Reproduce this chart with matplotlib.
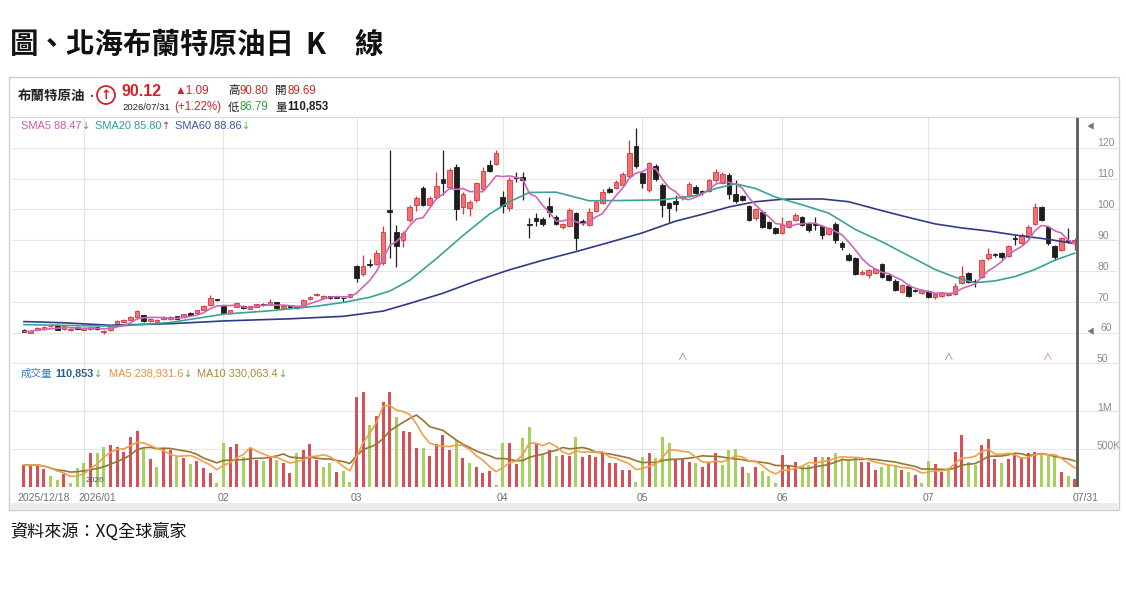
import matplotlib
matplotlib.use('Agg')
import matplotlib.pyplot as plt
import matplotlib.transforms as mtransforms
from matplotlib.patches import Rectangle, Circle
from matplotlib.text import Annotation
import numpy as np
import pandas as pd

plt.rcParams['font.family'] = ['Noto Sans CJK TC', 'DejaVu Sans']
LATIN = ['Liberation Sans', 'Noto Sans CJK TC', 'DejaVu Sans']

# ---- data ----
holidays = ['2025-12-25', '2026-01-01', '2026-04-03']
dates = pd.bdate_range('2025-12-18', '2026-07-31', freq='C', holidays=holidays)

opens = [
    60.9, 60.0, 60.7, 61.1, 62.0, 62.6, 61.2, 60.7, 61.9, 60.9,
    61.1, 61.7, 60.1, 60.7, 62.8, 63.4, 64.2, 65.2, 65.6, 63.8,
    63.5, 64.3, 64.3, 65.3, 65.0, 66.5, 66.3, 67.5, 69.0, 70.7,
    68.8, 66.3, 68.4, 68.8, 67.8, 68.4, 69.4, 69.1, 69.9, 68.1,
    68.9, 68.5, 68.4, 70.8, 72.1, 71.4, 71.8, 71.6, 71.4, 71.5,
    81.6, 79.0, 82.3, 82.3, 82.5, 99.8, 92.8, 90.1, 96.6, 101.5,
    106.9, 101.5, 104.0, 109.8, 107.2, 113.9, 100.9, 100.4, 102.9, 106.5,
    114.4, 114.8, 104.0, 100.4, 110.5, 110.4, 95.2, 97.3, 96.9, 101.1,
    97.7, 94.2, 94.6, 98.8, 96.3, 95.0, 99.6, 102.0, 106.5, 106.9,
    108.0, 110.9, 120.6, 111.7, 106.3, 114.1, 108.0, 102.0, 102.8, 103.8,
    104.4, 107.4, 105.9, 106.1, 109.4, 108.6, 111.2, 105.0, 104.2, 101.1,
    97.1, 99.3, 95.8, 93.9, 92.5, 94.3, 96.6, 97.5, 95.5, 95.3,
    94.7, 92.1, 95.4, 89.2, 85.2, 84.1, 79.0, 78.7, 79.5, 82.3,
    78.7, 76.9, 73.3, 75.3, 73.8, 73.0, 73.5, 71.7, 71.9, 72.3,
    72.6, 76.1, 79.3, 76.8, 78.2, 84.1, 85.3, 85.7, 84.9, 90.7,
    89.0, 91.2, 95.3, 100.7, 94.2, 88.1, 86.8, 90.2, 89.69,
]
highs = [
    61.1, 60.8, 61.7, 62.0, 62.8, 62.8, 62.2, 61.4, 62.1, 61.7,
    61.9, 61.9, 60.8, 62.3, 64.0, 64.5, 65.5, 67.4, 65.8, 64.6,
    64.3, 65.3, 65.3, 65.5, 66.2, 66.7, 67.5, 68.9, 72.2, 71.0,
    69.0, 67.5, 69.8, 69.0, 68.8, 69.4, 69.6, 70.9, 70.1, 68.9,
    69.1, 68.7, 70.8, 71.8, 72.8, 72.2, 72.0, 71.9, 71.7, 72.6,
    82.0, 85.2, 84.0, 86.8, 94.6, 119.3, 95.0, 93.0, 101.5, 104.5,
    107.5, 104.2, 112.3, 119.3, 113.5, 114.8, 105.5, 103.0, 109.0, 113.8,
    116.0, 119.2, 106.0, 110.5, 112.0, 112.0, 97.1, 99.0, 97.5, 104.0,
    98.2, 95.6, 100.3, 99.3, 96.8, 100.5, 103.0, 106.5, 107.3, 109.5,
    112.0, 122.6, 126.3, 112.2, 115.5, 114.6, 108.5, 102.5, 104.6, 104.6,
    108.8, 107.8, 106.4, 109.9, 113.2, 112.1, 111.7, 109.6, 104.6, 101.5,
    100.5, 99.8, 96.2, 94.3, 97.6, 96.5, 98.7, 97.9, 95.9, 97.6,
    95.1, 94.3, 95.8, 89.6, 85.8, 84.5, 80.2, 80.6, 81.0, 82.7,
    79.1, 77.3, 75.9, 75.7, 74.2, 74.3, 73.9, 73.0, 73.2, 73.0,
    76.2, 81.6, 79.7, 77.3, 84.0, 87.6, 86.0, 86.1, 88.5, 91.7,
    92.2, 94.9, 102.2, 101.1, 94.6, 88.5, 91.0, 93.9, 90.80,
]
lows = [
    60.1, 59.8, 60.5, 60.9, 61.7, 60.8, 61.0, 60.5, 61.1, 60.7,
    60.9, 60.9, 59.7, 60.5, 62.6, 63.2, 64.0, 65.0, 63.6, 63.6,
    63.3, 64.1, 64.1, 64.3, 64.8, 65.5, 66.1, 67.3, 68.8, 70.2,
    66.0, 66.1, 68.2, 67.8, 67.6, 68.2, 68.8, 68.9, 67.7, 67.9,
    68.1, 67.7, 68.2, 70.6, 71.9, 71.2, 71.0, 71.2, 69.8, 71.3,
    76.6, 78.5, 81.3, 81.8, 82.0, 84.2, 81.4, 87.9, 96.0, 99.5,
    101.0, 101.0, 103.5, 104.7, 106.5, 96.6, 98.5, 98.0, 102.3, 106.0,
    112.0, 114.3, 98.8, 99.5, 109.0, 103.1, 90.6, 94.7, 94.6, 97.7,
    94.8, 93.8, 94.2, 86.9, 95.0, 94.6, 99.2, 101.6, 105.3, 106.5,
    107.6, 110.4, 113.6, 106.9, 105.8, 109.2, 97.7, 96.0, 99.5, 103.2,
    104.0, 104.9, 104.8, 105.7, 109.0, 108.2, 103.4, 102.2, 102.6, 96.2,
    96.7, 94.0, 93.5, 91.9, 92.1, 93.9, 96.2, 94.6, 92.8, 93.4,
    90.5, 91.7, 89.0, 86.7, 83.2, 78.6, 78.6, 77.6, 79.1, 77.8,
    76.7, 73.5, 72.9, 71.6, 73.2, 72.6, 71.3, 71.0, 71.5, 72.0,
    72.2, 75.7, 76.0, 74.8, 77.8, 83.7, 84.5, 84.0, 84.5, 88.5,
    88.6, 90.8, 94.9, 96.2, 88.3, 83.5, 86.4, 89.1, 86.79,
]
closes = [
    60.3, 60.6, 61.5, 61.8, 62.1, 61.0, 62.0, 61.2, 61.3, 61.5,
    61.7, 61.1, 60.6, 62.1, 63.7, 64.2, 65.2, 67.1, 63.9, 64.4,
    64.1, 65.1, 65.1, 64.5, 66.0, 65.7, 67.3, 68.7, 71.2, 70.5,
    66.3, 67.3, 69.6, 68.0, 68.6, 69.2, 69.0, 69.9, 67.9, 68.7,
    68.3, 67.9, 70.6, 71.6, 72.3, 72.0, 71.2, 71.4, 71.1, 72.4,
    77.9, 81.6, 81.8, 85.8, 92.8, 99.3, 88.1, 92.5, 100.9, 103.6,
    101.5, 103.6, 107.6, 108.5, 112.8, 100.1, 105.0, 102.5, 108.5, 112.6,
    112.6, 118.4, 101.2, 109.6, 110.2, 109.6, 95.0, 96.3, 95.2, 99.3,
    95.2, 95.2, 99.8, 90.6, 95.5, 99.3, 102.5, 105.5, 105.8, 109.0,
    111.5, 118.4, 114.1, 108.5, 115.0, 109.8, 101.5, 100.4, 101.8, 104.0,
    108.3, 105.3, 105.7, 109.4, 112.3, 111.6, 105.0, 102.7, 103.1, 96.6,
    100.0, 94.4, 93.9, 92.3, 95.0, 96.1, 98.2, 95.0, 93.2, 95.1,
    91.8, 93.9, 90.2, 87.7, 83.6, 79.0, 79.8, 80.2, 80.6, 78.2,
    77.1, 73.9, 75.5, 72.0, 73.6, 73.9, 71.7, 72.6, 72.8, 72.6,
    75.0, 78.5, 76.4, 76.5, 83.6, 85.5, 85.1, 84.4, 88.1, 90.5,
    91.7, 94.4, 100.7, 96.6, 89.0, 84.6, 90.6, 89.5, 90.12,
]
# volume in thousands of lots
volumes_k = [
    289, 289, 289, 237, 145, 92, 167, 57, 246, 312,
    443, 443, 522, 553, 522, 465, 654, 741, 509, 364,
    268, 509, 487, 399, 377, 303, 342, 246, 189, 57,
    583, 531, 566, 399, 509, 355, 342, 390, 355, 312,
    180, 443, 487, 566, 355, 268, 320, 201, 212, 64,
    1188, 1254, 816, 930, 1123, 1254, 925, 737, 728, 509,
    509, 412, 566, 684, 487, 618, 377, 312, 268, 180,
    215, 31, 583, 575, 303, 640, 794, 566, 421, 487,
    408, 421, 408, 654, 399, 421, 399, 443, 320, 312,
    224, 224, 70, 390, 452, 377, 654, 583, 364, 364,
    333, 320, 268, 333, 443, 289, 487, 500, 259, 180,
    268, 215, 145, 48, 421, 289, 333, 276, 289, 390,
    390, 390, 443, 377, 355, 390, 333, 333, 224, 268,
    289, 276, 224, 202, 158, 57, 346, 303, 202, 246,
    465, 684, 333, 289, 553, 627, 364, 312, 364, 452,
    390, 443, 465, 421, 408, 390, 202, 145, 111,
]
# 1 = volume bar drawn red (up day), 0 = green
vol_up = [
    1, 1, 1, 1, 0, 0, 1, 0, 0, 0,
    1, 0, 0, 1, 1, 1, 1, 1, 0, 1,
    0, 1, 1, 0, 1, 0, 1, 1, 1, 0,
    0, 1, 1, 0, 1, 1, 0, 1, 0, 1,
    1, 0, 1, 1, 1, 0, 0, 1, 0, 0,
    1, 1, 0, 1, 1, 1, 0, 1, 1, 1,
    0, 1, 1, 1, 1, 0, 1, 0, 1, 1,
    1, 0, 0, 1, 1, 0, 0, 1, 0, 1,
    0, 1, 1, 0, 1, 1, 1, 1, 1, 1,
    1, 1, 0, 0, 1, 0, 0, 0, 1, 1,
    1, 0, 1, 1, 1, 0, 0, 0, 1, 0,
    1, 0, 0, 0, 1, 1, 1, 0, 0, 1,
    0, 1, 0, 0, 0, 0, 1, 1, 1, 0,
    0, 0, 1, 0, 1, 0, 0, 1, 1, 0,
    1, 1, 0, 0, 1, 1, 1, 0, 1, 1,
    1, 1, 1, 0, 0, 0, 1, 0, 1,
]
# SMA20 / SMA60 as traced on the chart (bar index, price)
sma20_idx = [0, 8, 14, 22, 30, 37, 44, 48, 52, 55, 58, 62, 66, 70, 73, 76, 80,
             85, 90, 96, 101, 104, 107, 110, 113, 117, 121, 125, 129, 133, 137,
             140, 143, 146, 149, 152, 155, 158]
sma20_val = [62.6, 62.3, 62.1, 63.3, 66.0, 67.1, 68.6, 69.8, 71.5, 73.5, 77.0,
             84.0, 91.5, 98.5, 102.5, 105.5, 105.6, 102.8, 102.9, 103.1, 104.5,
             106.8, 108.3, 106.8, 104.0, 101.5, 98.8, 93.5, 89.5, 85.0, 80.5,
             78.0, 76.2, 76.8, 78.2, 80.5, 83.5, 85.8]
sma60_idx = [0, 6, 13, 22, 30, 40, 48, 54, 58, 63, 68, 73, 78, 83, 88, 93, 98,
             102, 106, 110, 114, 120, 124, 129, 133, 137, 141, 145, 149, 154, 158]
sma60_val = [63.6, 63.2, 62.4, 62.9, 63.8, 64.5, 65.3, 67.0, 69.5, 72.8, 76.8,
             80.4, 83.5, 86.3, 89.3, 92.4, 96.2, 98.4, 100.8, 102.5, 103.3, 103.4,
             102.5, 99.6, 97.4, 95.3, 94.0, 93.0, 91.7, 90.3, 88.9]
event_idx = [99, 139, 154]
event_col = ['#5b7fd4', '#5b7fd4', '#d36fb4']

n = len(dates)
assert len(opens) == len(highs) == len(lows) == len(closes) == len(volumes_k) == len(vol_up) == n

x = np.arange(n)
o = np.array(opens); h = np.array(highs); l = np.array(lows); c = np.array(closes)
vol = np.array(volumes_k) * 1000.0
sma5 = pd.Series(c).rolling(5, min_periods=1).mean()
vma5 = pd.Series(vol).rolling(5, min_periods=1).mean()
vma10 = pd.Series(vol).rolling(10, min_periods=1).mean()
month_start = [i for i in range(1, n) if dates[i].month != dates[i - 1].month]

# ---- figure ----
W, H = 1126, 602
fig = plt.figure(figsize=(W / 100, H / 100), dpi=100)


def ptext(px, py, s, **kw):
    kw.setdefault('va', 'center')
    return fig.text(px / W, 1 - py / H, s, **kw)


def after(prev, s, gap, **kw):
    # text placed just right of another text artist
    return fig.add_artist(Annotation(s, xy=(1, 0.5), xycoords=prev, xytext=(gap, 0),
                                     textcoords='offset points', va='center', ha='left', **kw))


def pax(left, top, right, bottom):
    return fig.add_axes([left / W, 1 - bottom / H, (right - left) / W, (bottom - top) / H])


# frame around the chart widget
fig.patches.append(Rectangle((9 / W, 1 - 510 / H), 1110 / W, 433 / H, transform=fig.transFigure,
                             fill=False, ec='#cfcfcf', lw=1.0))
fig.patches.append(Rectangle((10 / W, 1 - 510 / H), 1108 / W, 7 / H, transform=fig.transFigure,
                             fc='#ececec', ec='none'))
fig.add_artist(plt.Line2D([10 / W, 1118 / W], [1 - 117 / H, 1 - 117 / H], color='#d9d9d9', lw=0.8))

ax = pax(12, 117, 1118, 365)
axv = pax(12, 365, 1118, 487)
XL = (-1.8, 164.5)
for a in (ax, axv):
    a.set_xlim(*XL)
    a.set_facecolor('none')
    for s in a.spines.values():
        s.set_visible(False)
    a.set_xticks([]); a.set_yticks([])
    for m in month_start:
        a.axvline(m, color='#e4e4e4', lw=0.8, zorder=0)
    a.axvline(n - 1 + 0.35, color='#5a5a5a', lw=2.0, zorder=5)

# ---- price panel ----
ax.set_ylim(49.5, 130.0)
for v in range(50, 121, 10):
    ax.axhline(v, color='#e6e6e6', lw=0.8, zorder=0)

up = c >= o
wick_col = np.where(up, '#d8353b', '#1e1e1e')
ax.vlines(x, l, h, colors=wick_col, lw=0.9, zorder=2)
body_h = np.maximum(np.abs(c - o), 0.3)
body_b = np.minimum(o, c)
ax.bar(x[up], body_h[up], bottom=body_b[up], width=0.7, color='#f07272', edgecolor='#d8353b',
       lw=0.6, zorder=3)
ax.bar(x[~up], body_h[~up], bottom=body_b[~up], width=0.7, color='#1e1e1e', edgecolor='#1e1e1e',
       lw=0.6, zorder=3)

ax.plot(sma60_idx, sma60_val, color='#2f3c84', lw=1.2, zorder=4)
ax.plot(sma20_idx, sma20_val, color='#3aa395', lw=1.2, zorder=4)
ax.plot(x, sma5, color='#cc68b6', lw=1.2, zorder=4)

for v in range(50, 121, 10):
    ax.text(161.35 if v != 60 else 161.8, v + 1.4, str(v), fontsize=7.5, color='#8a8a8a',
            ha='left', va='center', family=LATIN, clip_on=False)
ax.text(160.4, 126.6, '◀', fontsize=5.5, color='#777777', ha='center', va='center', clip_on=False)
ax.text(160.4, 60.2, '◀', fontsize=5.5, color='#777777', ha='center', va='center', clip_on=False)
for ei, ec in zip(event_idx, event_col):
    ax.text(ei, 52.1, '∧', fontsize=7, color=ec, ha='center', va='center', family=LATIN)

# ---- volume panel ----
axv.set_ylim(0, 1.605e6)
for v in (5e5, 1e6):
    axv.axhline(v, color='#e6e6e6', lw=0.8, zorder=0)
vcol = ['#d6505a' if u else '#a8d060' for u in vol_up]
axv.bar(x, vol, width=0.45, color=vcol, zorder=2)
axv.plot(x, vma10, color='#957634', lw=1.2, zorder=3)
axv.plot(x, vma5, color='#f0a04a', lw=1.2, zorder=3)
axv.text(161.35, 1.0e6 + 4e4, '1M', fontsize=7.5, color='#8a8a8a', ha='left', va='center',
         family=LATIN, clip_on=False)
axv.text(161.35, 5e5 + 4e4, '500K', fontsize=7.5, color='#8a8a8a', ha='left', va='center',
         family=LATIN, clip_on=False)
axv.text(month_start[0] + 0.2, 9e4, '2026', fontsize=6, color='#555555', ha='left', va='center',
         family=LATIN)

# ---- date labels ----
tr = mtransforms.blended_transform_factory(axv.transData, fig.transFigure)
ly = 1 - 498 / H
lab_kw = dict(fontsize=7.5, color='#707070', va='center', family=LATIN, transform=tr)
fig.text(-1.05, ly, dates[0].strftime('%Y/%m/%d'), ha='left', **lab_kw)
for k, m in enumerate(month_start):
    if k == 0:
        fig.text(m - 0.75, ly, dates[m].strftime('%Y/%m'), ha='left', **lab_kw)
    else:
        fig.text(m, ly, dates[m].strftime('%m'), ha='center', **lab_kw)
fig.text(n - 1 - 0.3, ly, dates[-1].strftime('%m/%d'), ha='left', **lab_kw)

# ---- header of the widget ----
RED, GRN, DARK = '#d2232a', '#2e9e3e', '#222222'
ptext(18, 96, '布蘭特原油', fontsize=9.7, weight='bold', color=DARK)
ptext(86, 97, '•', fontsize=7, color=DARK)
fig.patches.append(Circle((1.06, (H - 95) / 100), 0.09, transform=fig.dpi_scale_trans,
                          fill=False, ec=RED, lw=1.3))
ptext(106, 95.5, '↑', fontsize=9, color=RED, ha='center', weight='bold', family=['DejaVu Sans'])
ptext(121, 91, '90.12', fontsize=11.5, weight='bold', color=RED, family=LATIN)
ptext(122, 107.5, '2026/07/31', fontsize=6.8, color=DARK, family=LATIN)
ptext(175, 90.5, '▲1.09', fontsize=8.5, color=RED, family=LATIN)
ptext(174, 107, '(+1.22%)', fontsize=8.3, color=RED, family=LATIN)
ptext(228, 90.5, '高', fontsize=8.3, color=DARK)
ptext(240, 90.5, '90.80', fontsize=8.3, color=RED, family=LATIN)
ptext(228, 107, '低', fontsize=8.3, color=DARK)
ptext(240, 107, '86.79', fontsize=8.3, color=GRN, family=LATIN)
ptext(275, 90.5, '開', fontsize=8.3, color=DARK)
ptext(287, 90.5, '89.69', fontsize=8.3, color=RED, family=LATIN)
ptext(275, 107, '量', fontsize=8.3, color=DARK)
ptext(287, 107, '110,853', fontsize=8.3, color=DARK, weight='bold', family=LATIN)

# moving-average legends
ARW = ['DejaVu Sans']
t = ptext(21, 126, 'SMA5 88.47', fontsize=7.9, color='#cc5aae', family=LATIN)
t = after(t, '↓', 0.3, fontsize=7, color='#4cae4c', family=ARW)
t = after(t, 'SMA20 85.80', 3.5, fontsize=7.9, color='#2f9e90', family=LATIN)
t = after(t, '↑', 0.3, fontsize=7, color=RED, family=ARW)
t = after(t, 'SMA60 88.86', 3.5, fontsize=7.9, color='#3b55a5', family=LATIN)
after(t, '↓', 0.3, fontsize=7, color='#4cae4c', family=ARW)

t = ptext(21, 374, '成交量', fontsize=7.6, color='#3a7cc0')
t = after(t, '110,853', 2.0, fontsize=7.8, color='#2b5f8e', weight='bold', family=LATIN)
t = after(t, '↓', 0.3, fontsize=7, color='#4cae4c', family=ARW)
t = after(t, 'MA5 238,931.6', 5.0, fontsize=7.9, color='#e8903a', family=LATIN)
t = after(t, '↓', 0.3, fontsize=7, color='#4cae4c', family=ARW)
t = after(t, 'MA10 330,063.4', 4.0, fontsize=7.9, color='#a88a2e', family=LATIN)
after(t, '↓', 0.3, fontsize=7, color='#4cae4c', family=ARW)

# ---- page title and source ----
ptext(10, 45, '圖、北海布蘭特原油日', fontsize=20.5, weight='bold', color='#111111')
ptext(305, 45, 'K', fontsize=21, weight='bold', color='#111111')
ptext(354, 45, '線', fontsize=20.5, weight='bold', color='#111111')
ptext(10, 532, '資料來源：XQ全球贏家', fontsize=12.3, color='#111111')

fig.savefig('out.png', dpi=100)
